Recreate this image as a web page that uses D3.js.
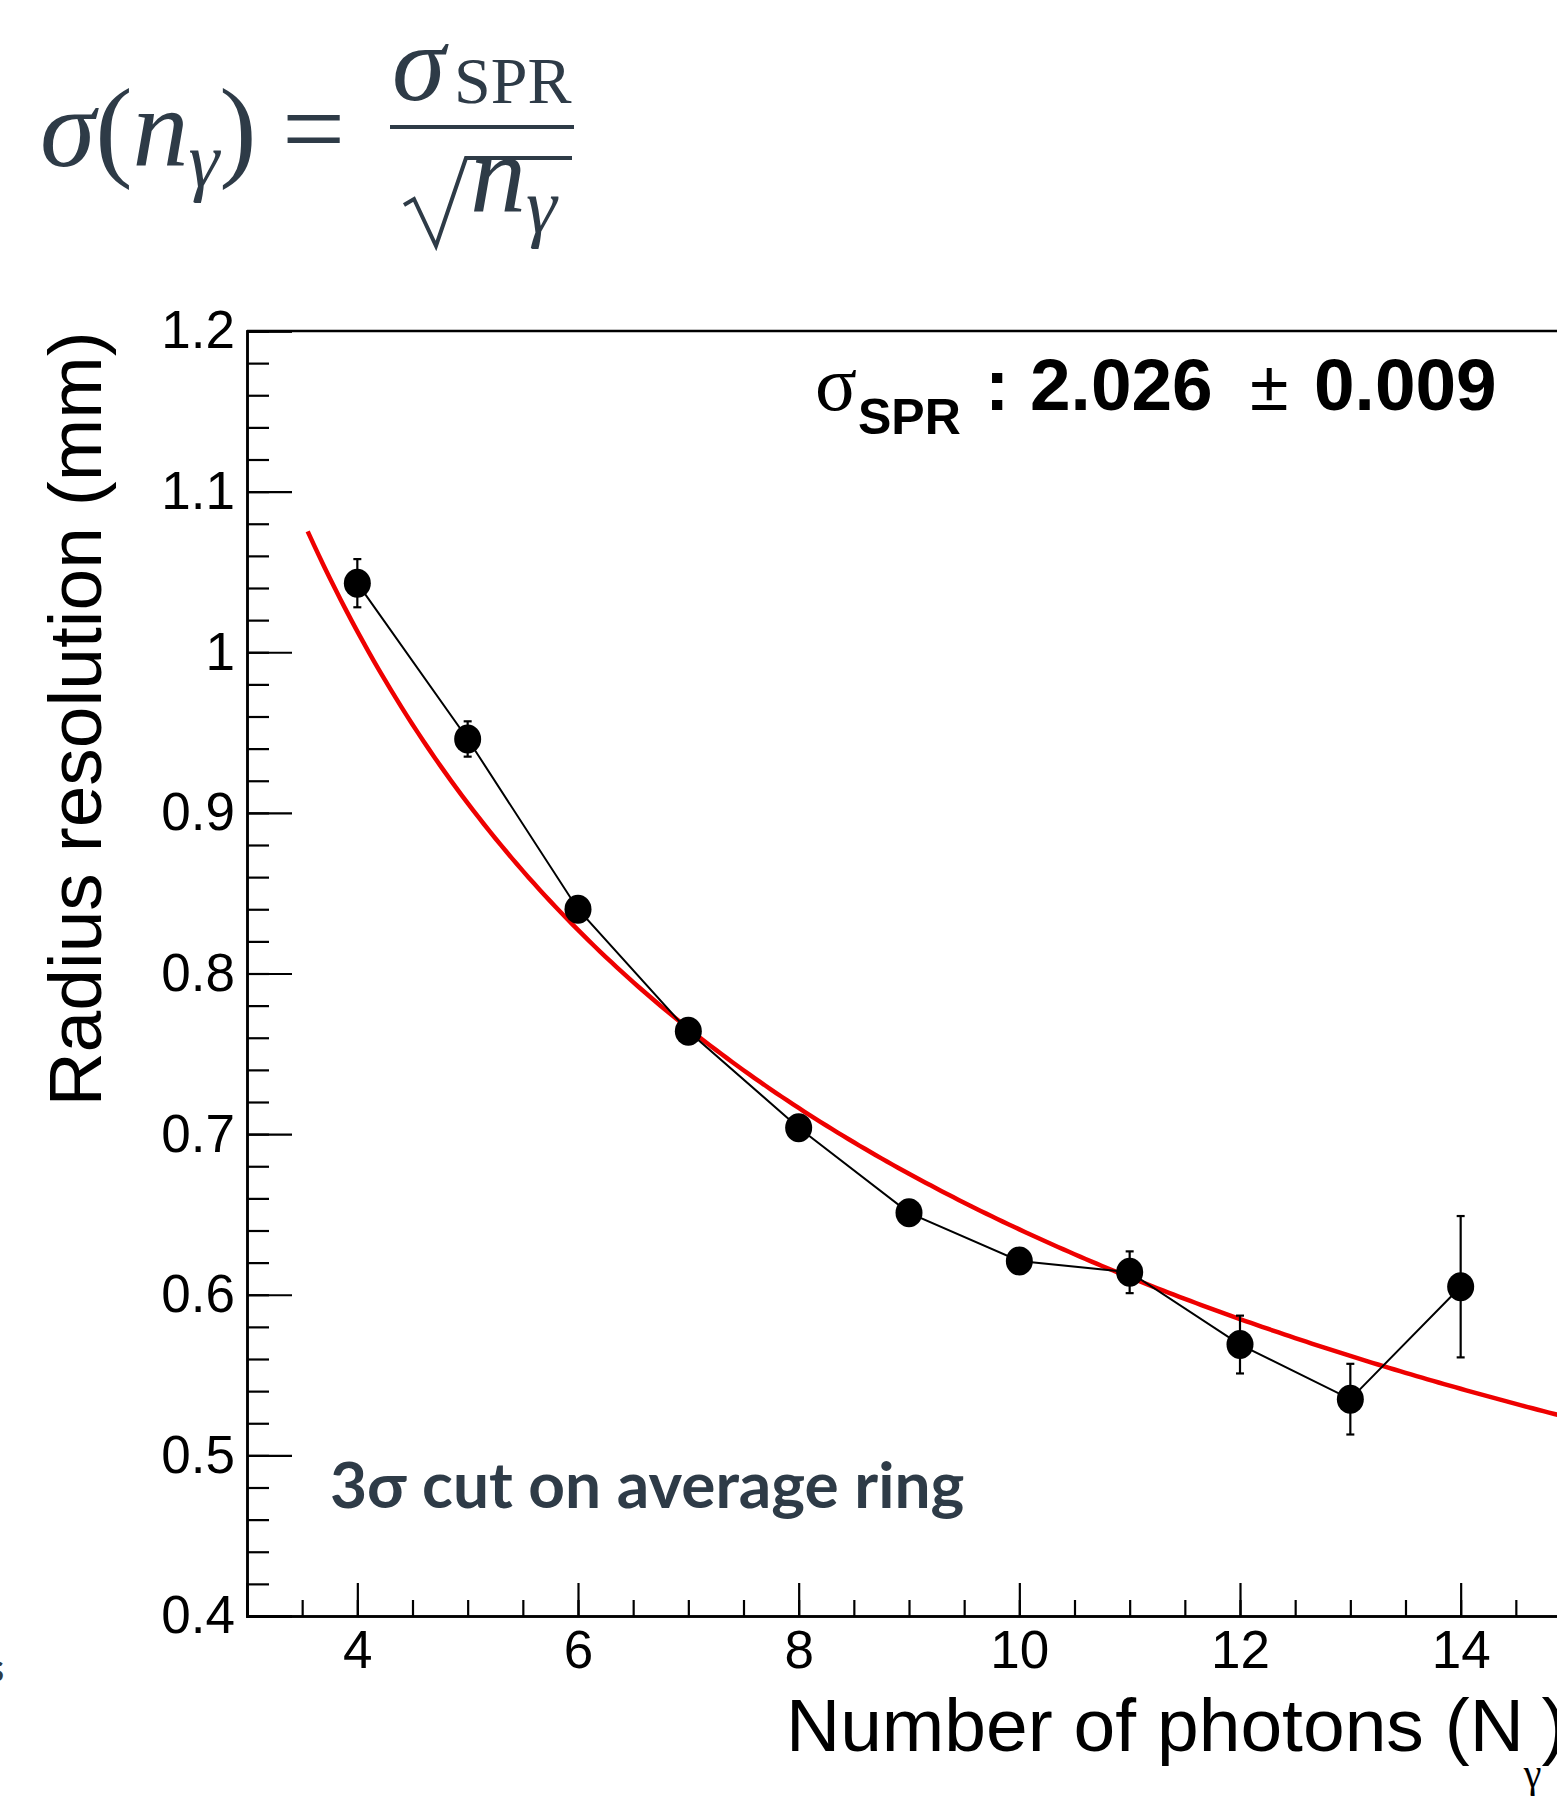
<!DOCTYPE html>
<html>
<head>
<meta charset="utf-8">
<script src="https://cdn.jsdelivr.net/npm/d3@7"></script>
<style>
  html, body { margin: 0; padding: 0; background: #fff; }
  svg { display: block; }
</style>
</head>
<body>
<script>
const width = 1557;
const height = 1800;

// measured points
const nPhotons = [4, 5, 6, 7, 8, 9, 10, 11, 12, 13, 14];
const resolution = [1.043, 0.946, 0.840, 0.764, 0.704, 0.651, 0.621, 0.614, 0.569, 0.535, 0.605];
const resolutionErr = [0.015, 0.011, 0.007, 0.006, 0.005, 0.007, 0.008, 0.013, 0.018, 0.022, 0.044];

// fit sigma(n) = sigmaSPR / sqrt(n)
const sigmaSPR = 2.026;
const sigmaSPRErr = 0.009;
const fitRange = [3.55, 15];

const xMajorTicks = [4, 6, 8, 10, 12, 14];
const yMajorTicks = [0.4, 0.5, 0.6, 0.7, 0.8, 0.9, 1.0, 1.1, 1.2];

const slate = '#2e3b47';

const svg = d3.select('body')
  .append('svg')
  .attr('width', width)
  .attr('height', height);

const x = d3.scaleLinear().domain([3, 15]).range([247, 1571]);
const y = d3.scaleLinear().domain([0.4, 1.2]).range([1616, 331]);

const font = '"Liberation Sans", Arial, Helvetica, sans-serif';

// minor ticks
svg.append('g')
  .attr('transform', `translate(0,${y(0.4)})`)
  .call(d3.axisBottom(x).tickValues(d3.range(3, 15.01, 0.5)).tickSize(-16).tickFormat(''));
svg.append('g')
  .attr('transform', `translate(${x(3)},0)`)
  .call(d3.axisLeft(y).tickValues(d3.range(0.4, 1.2001, 0.02)).tickSize(-22).tickFormat(''));

// major ticks with labels
svg.append('g')
  .attr('transform', `translate(0,${y(0.4)})`)
  .call(d3.axisBottom(x).tickValues(xMajorTicks).tickSize(-33).tickPadding(14).tickFormat(d3.format('d')));
svg.append('g')
  .attr('transform', `translate(${x(3)},0)`)
  .call(d3.axisLeft(y).tickValues(yMajorTicks).tickSize(-45).tickPadding(12).tickFormat(d => String(+d.toFixed(1))));

svg.selectAll('.domain').attr('stroke', '#000').attr('stroke-width', 2.5);
svg.selectAll('.tick line').attr('stroke', '#000').attr('stroke-width', 2.2);
svg.selectAll('.tick text')
  .attr('fill', '#000')
  .style('font-family', font)
  .style('font-size', '53px');

// frame top
svg.append('line')
  .attr('x1', x(3)).attr('x2', x(15))
  .attr('y1', y(1.2)).attr('y2', y(1.2))
  .attr('stroke', '#000').attr('stroke-width', 2.5);

// fit curve
const fitPts = d3.range(fitRange[0], fitRange[1] + 0.001, 0.05).map(n => [n, sigmaSPR / Math.sqrt(n)]);
svg.append('path')
  .datum(fitPts)
  .attr('fill', 'none')
  .attr('stroke', '#ee0000')
  .attr('stroke-width', 4.5)
  .attr('d', d3.line().x(d => x(d[0])).y(d => y(d[1])));

const pts = nPhotons.map((n, i) => ({ n, v: resolution[i], e: resolutionErr[i] }));

// connecting line
svg.append('path')
  .datum(pts)
  .attr('fill', 'none')
  .attr('stroke', '#000')
  .attr('stroke-width', 2)
  .attr('d', d3.line().x(d => x(d.n)).y(d => y(d.v)));

// error bars
const eb = svg.append('g').attr('stroke', '#000').attr('stroke-width', 2.2);
eb.selectAll('.bar').data(pts).enter().append('line')
  .attr('x1', d => x(d.n)).attr('x2', d => x(d.n))
  .attr('y1', d => y(d.v - d.e)).attr('y2', d => y(d.v + d.e));
eb.selectAll('.capTop').data(pts).enter().append('line')
  .attr('x1', d => x(d.n) - 4).attr('x2', d => x(d.n) + 4)
  .attr('y1', d => y(d.v + d.e)).attr('y2', d => y(d.v + d.e));
eb.selectAll('.capBot').data(pts).enter().append('line')
  .attr('x1', d => x(d.n) - 4).attr('x2', d => x(d.n) + 4)
  .attr('y1', d => y(d.v - d.e)).attr('y2', d => y(d.v - d.e));

// markers
svg.append('g').selectAll('ellipse').data(pts).enter().append('ellipse')
  .attr('cx', d => x(d.n))
  .attr('cy', d => y(d.v))
  .attr('rx', 13.5)
  .attr('ry', 14.5)
  .attr('fill', '#000');

// axis titles
svg.append('text')
  .attr('transform', `translate(101,${(335 + 1103) / 2}) rotate(-90)`)
  .attr('text-anchor', 'middle')
  .style('font-family', font)
  .style('font-size', '75px')
  .text('Radius resolution (mm)');

const xt = svg.append('text')
  .attr('x', 786)
  .attr('y', 1751)
  .style('font-family', font)
  .style('font-size', '75px');
xt.append('tspan').text('Number of photons (N');
xt.append('tspan')
  .attr('dy', 36)
  .style('font-family', '"Liberation Serif", serif')
  .style('font-size', '40px')
  .text('γ');
xt.append('tspan').attr('dy', -36).text(')');

// fit result label
const fr = svg.append('text')
  .attr('y', 410)
  .style('font-family', font)
  .style('font-weight', 'bold')
  .style('font-size', '73px');
fr.append('tspan')
  .attr('x', 815)
  .style('font-family', '"Liberation Serif", serif')
  .style('font-weight', 'normal')
  .style('font-size', '78px')
  .text('σ');
fr.append('tspan')
  .attr('x', 858)
  .attr('dy', 24)
  .style('font-size', '50px')
  .text('SPR');
fr.append('tspan')
  .attr('x', 985)
  .attr('dy', -24)
  .text(':');
fr.append('tspan')
  .attr('x', 1030)
  .text(d3.format('.3f')(sigmaSPR));
fr.append('tspan')
  .attr('x', 1250)
  .style('font-weight', 'normal')
  .style('font-size', '70px')
  .text('±');
fr.append('tspan')
  .attr('x', 1314)
  .text(d3.format('.3f')(sigmaSPRErr));

// slide annotation
svg.append('text')
  .attr('x', 330)
  .attr('y', 1508)
  .attr('fill', slate)
  .style('font-family', 'Lato, sans-serif')
  .style('font-weight', 'bold')
  .style('font-size', '64px')
  .text('3σ cut on average ring');

svg.append('text')
  .attr('x', 4)
  .attr('y', 1682)
  .attr('text-anchor', 'end')
  .attr('fill', slate)
  .style('font-family', 'Lato, sans-serif')
  .style('font-weight', 'bold')
  .style('font-size', '40px')
  .text('s');

// formula at top: sigma(n_gamma) = sigma_SPR / sqrt(n_gamma)
const mathFont = '"Liberation Serif", "DejaVu Serif", serif';
const eq = svg.append('g').attr('fill', slate).style('font-family', mathFont);

const lhs = eq.append('text').attr('x', 40).attr('y', 166).style('font-size', '112px');
lhs.append('tspan').style('font-style', 'italic').text('σ');
lhs.append('tspan').text('(');
lhs.append('tspan').style('font-style', 'italic').text('n');
lhs.append('tspan').attr('dy', 20).style('font-style', 'italic').style('font-size', '78px').text('γ');
lhs.append('tspan').attr('dy', -20).text(')');

eq.append('text').attr('x', 282).attr('y', 166).style('font-size', '112px').text('=');

const num = eq.append('text').attr('x', 392).attr('y', 100).style('font-size', '108px');
num.append('tspan').style('font-style', 'italic').text('σ');
num.append('tspan').attr('x', 454).attr('dy', 3).style('font-size', '66px').text('SPR');

eq.append('line')
  .attr('x1', 390).attr('x2', 574)
  .attr('y1', 127).attr('y2', 127)
  .attr('stroke', slate).attr('stroke-width', 4);

// radical sign
eq.append('path')
  .attr('d', 'M404,205 L414,199 L436,246 L466,158 L572,158')
  .attr('fill', 'none')
  .attr('stroke', slate)
  .attr('stroke-width', 4)
  .attr('stroke-linejoin', 'miter');

const den = eq.append('text').attr('x', 470).attr('y', 212).style('font-size', '112px');
den.append('tspan').style('font-style', 'italic').text('n');
den.append('tspan').attr('dy', 20).style('font-style', 'italic').style('font-size', '78px').text('γ');
</script>
</body>
</html>
